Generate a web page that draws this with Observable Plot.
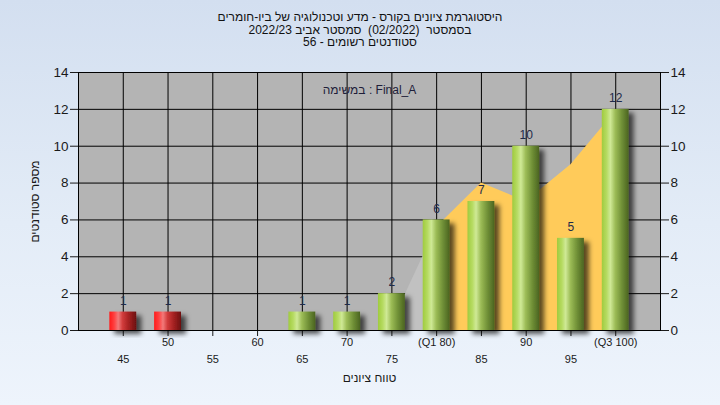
<!DOCTYPE html>
<html><head><meta charset="utf-8">
<script src="https://cdn.jsdelivr.net/npm/d3@7"></script>
<script src="https://cdn.jsdelivr.net/npm/@observablehq/plot@0.6"></script>
<style>
html,body{margin:0;padding:0;width:720px;height:405px;overflow:hidden;}
body{background:linear-gradient(to bottom,#d3dff0 0%,#e3ecf7 55%,#eef4fc 100%);font-family:"Liberation Sans",Arial,sans-serif;position:relative;}
#title{position:absolute;top:0;left:0;width:720px;height:55px;text-align:center;font-size:12px;line-height:12.5px;color:#111;padding-top:11px;box-sizing:border-box;}
#chart{position:absolute;top:55px;left:0;}
</style></head><body>
<div id="title">
<div dir="rtl">היסטוגרמת ציונים בקורס - מדע וטכנולוגיה של ביו-חומרים</div>
<div dir="rtl">בסמסטר&nbsp; (02/2022)&nbsp; סמסטר אביב 2022/23</div>
<div dir="rtl">סטודנטים רשומים - 56</div>
</div>
<div id="chart"></div>
<script>
const categories = [45, 50, 55, 60, 65, 70, 75, 80, 85, 90, 95, 100];
const tickLabels = ["45", "50", "55", "60", "65", "70", "75", "(Q1 80)", "85", "90", "95", "(Q3 100)"];
const counts = [1, 1, 0, 0, 1, 1, 2, 6, 7, 10, 5, 12];
const barGroups = ["fail", "fail", "fail", "fail", "pass", "pass", "pass", "pass", "pass", "pass", "pass", "pass"];
const curveX = [75, 80, 85, 90, 95, 100];
const curveY = [0.4, 5.6, 8.0, 7.0, 9.0, 11.9];
const yTicks = [0, 2, 4, 6, 8, 10, 12, 14];
const yTitle = "מספר סטודנטים";
const xTitle = "טווח ציונים";
const note = "במשימה : Final_A";

const bars = categories.map((c, i) => ({c, label: tickLabels[i], n: counts[i], g: barGroups[i]})).filter(d => d.n > 0);
const ticks = categories.map((c, i) => ({c, label: tickLabels[i], row: i % 2}));
const curve = curveX.map((x, i) => ({x, y: curveY[i]}));

const plot = Plot.plot({
  width: 720, height: 350,
  marginLeft: 78, marginRight: 60, marginTop: 17, marginBottom: 75,
  style: {background: "transparent", fontFamily: "Liberation Sans, Arial, sans-serif", fontSize: "13.5px", color: "#1a1a1a"},
  x: {domain: [40, 105], ticks: categories, tickFormat: () => "", tickSize: 6, label: null},
  y: {domain: [0, 14], axis: "both", ticks: yTicks, tickSize: 8, tickPadding: 2, label: null},
  marks: [
    Plot.frame({fill: "#b4b4b4"}),
    Plot.ruleY(yTicks, {stroke: "#000", strokeWidth: 1}),
    Plot.ruleX(categories, {stroke: "#000", strokeWidth: 1}),
    Plot.areaY(curve.filter(d => d.x <= 80), {x: "x", y: "y", fill: "#c1c1c1"}),
    Plot.areaY(curve.filter(d => d.x >= 80), {x: "x", y: "y", fill: "#ffcb5a"}),
    Plot.rect(bars.filter(d => d.g === "fail"), {x1: d => d.c - 1.5, x2: d => d.c + 1.5, y1: d => 0, y2: "n", fill: "url(#gradRed)"}),
    Plot.rect(bars.filter(d => d.g === "pass"), {x1: d => d.c - 1.5, x2: d => d.c + 1.5, y1: d => 0, y2: "n", fill: "url(#gradGreen)"}),
    Plot.text(bars, {x: "c", y: "n", text: d => String(d.n), dy: -11, fill: "#1e2a4a", fontSize: 12}),
    Plot.text(ticks.filter(d => d.row === 1), {x: "c", frameAnchor: "bottom", text: "label", fontSize: 11, fill: "#1a1a1a", dy: 15}),
    Plot.text(ticks.filter(d => d.row === 0), {x: "c", frameAnchor: "bottom", text: "label", fontSize: 11, fill: "#1a1a1a", dy: 32}),
    Plot.text([xTitle], {frameAnchor: "bottom", text: d => d, dy: 51, fontSize: 12, fill: "#1a1a1a"}),
    Plot.text([yTitle], {frameAnchor: "left", text: d => d, dx: -43, rotate: -90, textAnchor: "middle", fontSize: 12, fill: "#1a1a1a"}),
    Plot.text([note], {frameAnchor: "top", text: d => d, dy: 13, fontSize: 12, fill: "#1e1e3a"}),
    Plot.frame({stroke: "#000"})
  ]
});

const svg = d3.select(plot);
const defs = svg.insert("defs", ":first-child");
function grad(id, stops) {
  const g = defs.append("linearGradient").attr("id", id).attr("x1", "0").attr("x2", "1").attr("y1", "0").attr("y2", "0");
  stops.forEach(([o, c]) => g.append("stop").attr("offset", o).attr("stop-color", c));
}
grad("gradRed", [[0, "#ff1a1a"], [0.18, "#ff4040"], [0.33, "#f27a7a"], [0.5, "#d03a3a"], [0.75, "#a02020"], [1, "#6c1010"]]);
grad("gradGreen", [[0, "#9fcb3e"], [0.18, "#b6db62"], [0.32, "#cfe996"], [0.5, "#9cbc56"], [0.75, "#6f8f36"], [1, "#4b6421"]]);
const f = defs.append("filter").attr("id", "shadow").attr("x", "-20%").attr("y", "-20%").attr("width", "160%").attr("height", "160%");
f.append("feDropShadow").attr("dx", 5).attr("dy", 4).attr("stdDeviation", 2.5).attr("flood-color", "#000").attr("flood-opacity", 0.65);
let applied = false;
svg.selectAll("g").filter(function() {
  const fill = this.getAttribute("fill") || "";
  return fill.indexOf("grad") >= 0;
}).each(function() { applied = true; }).attr("filter", "url(#shadow)");
if (!applied) {
  svg.selectAll("rect").filter(function() {
    return (this.getAttribute("fill") || "").indexOf("grad") >= 0;
  }).attr("filter", "url(#shadow)");
}

document.getElementById("chart").appendChild(plot);
</script>
</body></html>
